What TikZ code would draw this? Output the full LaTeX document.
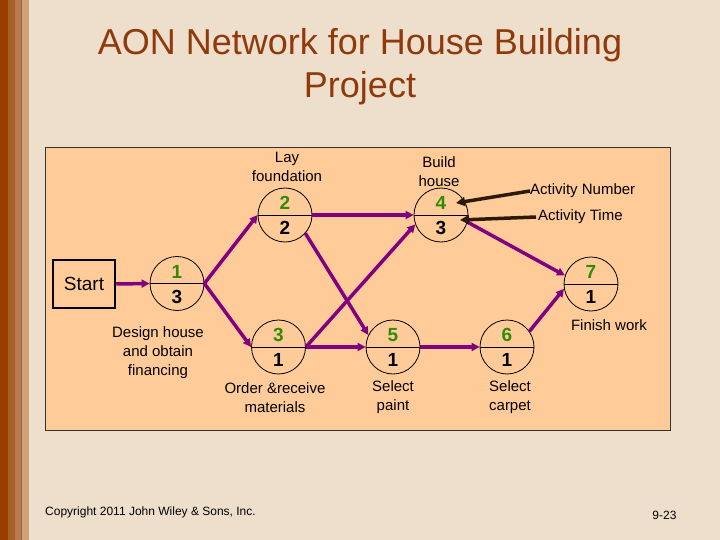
\documentclass[tikz,border=0pt]{standalone}
\usepackage{fontspec}
\setmainfont{Liberation Sans}
\usetikzlibrary{arrows.meta}
\definecolor{bgc}{HTML}{EEDFCC}
\definecolor{panelc}{HTML}{FFCC99}
\definecolor{titlec}{HTML}{8F3A0C}
\definecolor{edgec}{HTML}{800080}
\definecolor{numgc}{HTML}{2E8B0B}
\definecolor{callc}{HTML}{2B1A0A}
\definecolor{stripeA}{HTML}{993D00}
\definecolor{stripeB}{HTML}{A8602A}
\definecolor{stripeC}{HTML}{B87A50}
\definecolor{stripeD}{HTML}{9A6A3A}
\definecolor{stripeE}{HTML}{D0A07A}
\tikzset{
  act/.style={circle, draw=black, line width=0.8pt, minimum size=54pt, inner sep=0pt},
  numg/.style={font=\fontsize{19}{19}\selectfont\bfseries, text=numgc, inner sep=0pt},
  numk/.style={font=\fontsize{19}{19}\selectfont\bfseries, text=black, inner sep=0pt},
  lbl/.style={font=\fontsize{15}{19}\selectfont, align=center, inner sep=0pt, text=black},
  edge/.style={draw=edgec, line width=3.5pt, -{Triangle[length=8pt,width=8pt]}},
  call/.style={draw=callc, line width=3.5pt, -{Triangle[length=9pt,width=9pt]}},
  startbox/.style={draw=black, line width=2.5pt, minimum width=62pt, minimum height=48pt, font=\fontsize{19}{19}\selectfont},
}
\newcommand{\actnode}[5]{%
  \node[act] (#1) at (#2,#3) {};
  \draw[line width=0.8pt] (#1.west) -- (#1.east);
  \node[numg] (#1num) at ([yshift=12pt]#1.center) {#4};
  \node[numk] (#1time) at ([yshift=-13pt]#1.center) {#5};
}
\begin{document}
\begin{tikzpicture}[x=1pt,y=-1pt]
\useasboundingbox (0,0) rectangle (720,540);
\fill[bgc] (0,0) rectangle (720,540);
\fill[stripeA] (0,0) rectangle (8,540);
\fill[stripeB] (8,0) rectangle (15,540);
\fill[stripeC] (15,0) rectangle (21,540);
\fill[stripeD] (21,0) rectangle (22,540);
\fill[stripeE] (22,0) rectangle (29,540);

\node[font=\fontsize{36}{43}\selectfont, text=titlec, align=center] (title) at (360,67) {AON Network for House Building\\Project};

\draw[fill=panelc, draw=black!80, line width=0.8pt] (45,147) rectangle (670,430);

\node[startbox] (start) at (84,284) {Start};

\actnode{n1}{177}{283.5}{1}{3}
\actnode{n2}{285}{215}{2}{2}
\actnode{n3}{278.5}{347}{3}{1}
\actnode{n4}{441}{215}{4}{3}
\actnode{n5}{393}{347}{5}{1}
\actnode{n6}{507}{347}{6}{1}
\actnode{n7}{591}{284}{7}{1}

\node[lbl] (l2) at (287,166.5) {Lay\\foundation};
\node[lbl] (l4) at (439,171.5) {Build\\house};
\node[lbl] (l1) at (158,353) {Design house\\and obtain\\financing};
\node[lbl] (l3) at (275,397.5) {Order \&receive\\materials};
\node[lbl] (l5) at (393,397.5) {Select\\paint};
\node[lbl] (l6) at (510,397.5) {Select\\carpet};
\node[lbl] (l7) at (609,325) {Finish work};

\node[lbl, anchor=west] (anum) at (530,191) {Activity Number};
\node[lbl, anchor=west] (atime) at (538,217) {Activity Time};

\draw[edge] (start.east) -- (n1.west);
\draw[edge] (n1.east) -- (n2.west);
\draw[edge] (n1.east) -- (n3.west);
\draw[edge] (n2.east) -- (n4.west);
\draw[edge] (n2.-42) -- (n5.154);
\draw[edge] (n3.east) -- (n4.200);
\draw[edge] (n3.east) -- (n5.west);
\draw[edge] (n5.east) -- (n6.west);
\draw[edge] (n4.-15) -- (n7.162);
\draw[edge] (n6.35) -- (n7.190);

\coordinate (pnum) at ([shift={(15pt,12pt)}]n4.center);
\coordinate (ptime) at ([shift={(19pt,-5pt)}]n4.center);
\draw[call] (anum.west) -- (pnum);
\draw[call] ([xshift=-2pt]atime.west) -- (ptime);

\node[font=\fontsize{12}{12}\selectfont, anchor=west, inner sep=0pt] (copy) at (45,512) {Copyright 2011 John Wiley \& Sons, Inc.};
\node[font=\fontsize{12}{12}\selectfont, inner sep=0pt] (page) at (664.5,515) {9-23};
\end{tikzpicture}
\end{document}
